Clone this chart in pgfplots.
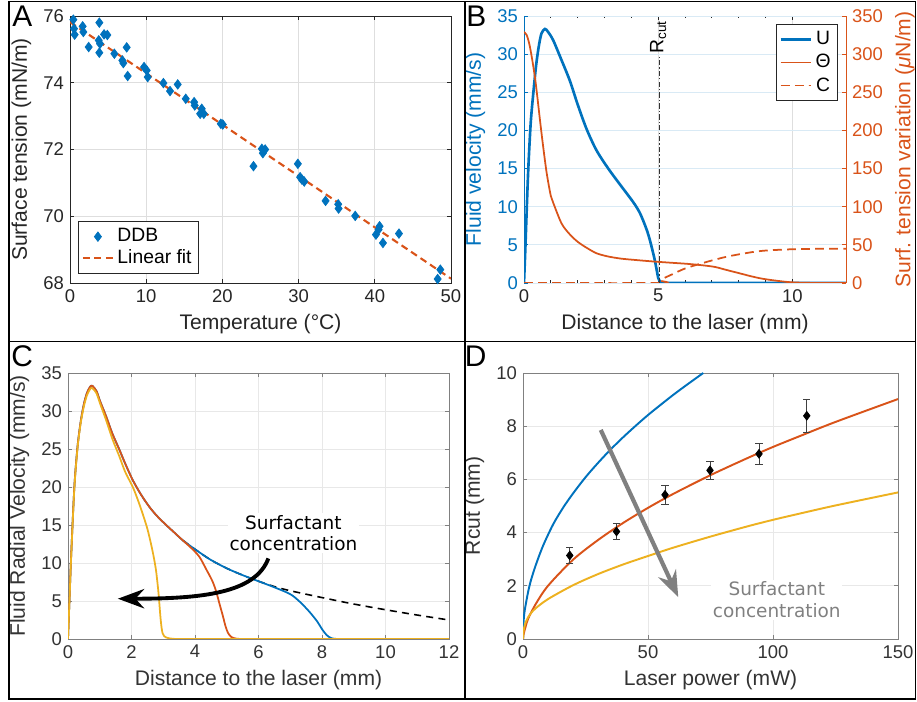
\documentclass[border=0pt]{standalone}
\usepackage{fontspec}
\setmainfont{Liberation Sans}
\newfontfamily\dejavu{DejaVu Sans}
\usepackage{pgfplots}
\pgfplotsset{compat=1.18}
\usetikzlibrary{arrows.meta}

\definecolor{mblue}{rgb}{0,0.447,0.741}
\definecolor{morange}{rgb}{0.85,0.325,0.098}
\definecolor{myellow}{rgb}{0.929,0.694,0.125}
\definecolor{axc}{rgb}{0.15,0.15,0.15}
\definecolor{gridc}{rgb}{0.87,0.87,0.87}
\definecolor{gridl}{rgb}{0.91,0.91,0.91}
\definecolor{gridb}{rgb}{0.85,0.917,0.961}
\definecolor{axg}{rgb}{0.5,0.5,0.5}

\pgfplotsset{
  mat/.style={
    scale only axis,
    axis line style={axc, line width=0.5pt},
    tick style={axc, line width=0.5pt},
    tick align=inside,
    major tick length=0.08cm,
    minor tick length=0.05cm,
    grid=major,
    major grid style={gridc, line width=0.5pt},
    ticklabel style={font=\fontsize{10.5}{12}\selectfont, text=axc},
    label style={font=\fontsize{12}{14}\selectfont, text=axc},
    /pgf/number format/assume math mode=true,
  },
  matgray/.style={
    axis line style={axg, line width=0.5pt},
    tick style={axg, line width=0.5pt},
    major grid style={gridl, line width=0.5pt},
    ticklabel style={text=black!80},
    label style={text=black!80},
  },
}
\tikzset{
  panel/.style={anchor=base west, inner sep=0pt, font=\fontsize{17}{20}\selectfont},
  surf/.style={fill=white, align=center, inner sep=1pt, font=\dejavu\fontsize{10.5}{12.3}\selectfont},
}

\begin{document}
\begin{tikzpicture}
\useasboundingbox (0,0) rectangle (18.34,14.04);

% ---------- A ----------
\begin{axis}[mat, at={(1.40cm,8.38cm)}, anchor=south west,
  width=7.62cm, height=5.34cm,
  xmin=0, xmax=50, ymin=68, ymax=76,
  xtick={0,10,...,50}, ytick={68,70,...,76},
  xlabel={Temperature (°C)}, ylabel={Surface tension (mN/m)},
  legend style={at={(0.021,0.034)}, anchor=south west, draw=axc,
    font=\fontsize{11}{13}\selectfont, inner sep=2pt, row sep=-1pt,
    cells={anchor=west}},
]
\addplot[only marks, mark=diamond*, mark size=2.7pt, color=mblue] coordinates {
 (0.44,75.89)(0.53,75.62)(0.61,75.44)(1.66,75.69)(1.75,75.52)(2.45,75.07)
 (3.85,75.80)(3.77,75.27)(3.94,75.17)(3.85,74.90)(4.47,75.45)(4.9,75.43)
 (5.82,74.87)(6.87,74.67)(7.0,74.59)(7.44,75.06)(7.57,74.20)(9.72,74.47)
 (10.07,74.37)(10.2,74.17)(12.26,73.99)(13.13,73.75)(14.14,73.95)(15.19,73.52)
 (16.29,73.42)(16.37,73.32)(17.08,73.07)(17.29,73.22)(17.56,73.07)(19.79,72.77)
 (20.05,72.75)(24.08,71.50)(25.18,72.02)(25.31,71.89)(25.61,72.0)(29.9,71.57)
 (30.2,71.17)(30.43,71.1)(30.74,71.04)(33.54,70.46)(35.2,70.36)(35.25,70.23)
 (37.43,70.01)(40.15,69.45)(40.5,69.6)(40.63,69.7)(41.07,69.2)(43.17,69.48)
 (48.25,68.12)(48.6,68.4)};
\addlegendentry{DDB}
\addplot[morange, line width=1.2pt, dash pattern=on 4pt off 2.5pt] coordinates {(0,75.82)(50,68.13)};
\addlegendentry{Linear fit}
\end{axis}

% ---------- B ----------
\begin{axis}[mat, at={(10.48cm,8.38cm)}, anchor=south west,
  width=6.44cm, height=5.34cm,
  xmin=0, xmax=12, ymin=0, ymax=35,
  xtick={0,5,10}, minor x tick num=4,
  axis x line=box, axis y line=none,
  xmajorgrids=true, ymajorgrids=false,
  xlabel={Distance to the laser (mm)},
  xlabel style={font=\fontsize{12}{14}\selectfont, text=axc},
]
\end{axis}
\begin{axis}[mat, at={(10.48cm,8.38cm)}, anchor=south west,
  width=6.44cm, height=5.34cm,
  xmin=0, xmax=12, ymin=0, ymax=35,
  ytick={0,5,...,35},
  axis x line=none, axis y line*=left,
  axis line style={mblue}, tick style={mblue},
  xmajorgrids=false, ymajorgrids=true, major grid style={gridb, line width=0.5pt},
  ticklabel style={text=mblue}, label style={text=mblue},
  ylabel={Fluid velocity (mm/s)},
]
\addplot[mblue, line width=1.5pt, smooth, tension=0.5] coordinates {
 (0,0)(0.05,4.5)(0.1,9.5)(0.16,15)(0.25,21)(0.35,25)(0.45,28.5)(0.55,31)
 (0.65,32.7)(0.78,33.3)(0.9,32.9)(1.09,31.8)(1.4,29.2)(1.71,26.5)(2.0,23.4)
 (2.33,20.2)(2.7,17.4)(3.14,15.0)(3.58,12.9)(4.07,10.6)(4.3,9.3)(4.45,8.1)
 (4.6,6.7)(4.70,5.5)(4.8,4.1)(4.88,2.9)(4.95,1.6)(5.0,0.7)(5.07,0.2)(5.2,0.02)(6,0)(12,0)};
\end{axis}
\begin{axis}[mat, at={(10.48cm,8.38cm)}, anchor=south west,
  width=6.44cm, height=5.34cm,
  xmin=0, xmax=12, ymin=0, ymax=350,
  ytick={0,50,...,350},
  axis x line=none, axis y line*=right,
  axis line style={morange}, tick style={morange},
  grid=none,
  ticklabel style={text=morange}, label style={text=morange},
  ylabel={Surf. tension variation (\textit{μ}N/m)},
  legend style={at={(0.975,0.97)}, anchor=north east, draw=axc,
    font=\fontsize{11}{13}\selectfont, inner sep=2pt, row sep=0pt},
]
\addlegendimage{mblue, line width=1.5pt}
\addlegendentry{U}
\addplot[morange, line width=1pt, smooth, tension=0.5] coordinates {
 (0,329)(0.1,325)(0.2,313)(0.3,294)(0.41,269)(0.5,243)(0.6,212)(0.72,177)
 (0.85,143)(1.0,114)(1.09,105)(1.4,78)(1.7,64)(2.0,54)(2.34,46)(2.7,39)(3.1,35)
 (3.6,32)(4.2,30)(4.88,28)(5.5,26.5)(6.12,25)(6.7,23)(7.12,21)(7.5,17.5)(8.0,13)
 (8.5,8.5)(8.9,5.5)(9.4,3)(9.86,1.2)(10.3,0.4)(11,0)(12,0)};
\addlegendentry{Θ}
\addplot[morange, line width=1pt, dash pattern=on 5pt off 3pt, smooth, tension=0.5] coordinates {
 (0,0)(5,0)(5.1,3)(5.2,6)(5.5,11)(6,19)(6.5,24.5)(7,29.5)(7.5,34)(8,37.5)
 (8.6,41)(9,42.5)(9.5,43.5)(10,44.2)(11,44.8)(12,45)};
\addlegendentry{C}
\draw[black!80, line width=0.8pt, dash pattern=on 3pt off 1.2pt on 0.8pt off 1.2pt]
  (axis cs:5.05,0) -- (axis cs:5.05,296);
\node[rotate=90, anchor=west, inner sep=1pt, font=\fontsize{11}{13}\selectfont]
  at (axis cs:5.0,298) {R\textsubscript{cut}};
\end{axis}

% ---------- C ----------
\begin{axis}[mat, matgray, at={(1.36cm,1.26cm)}, anchor=south west,
  width=7.62cm, height=5.32cm,
  xmin=0, xmax=12, ymin=0, ymax=35,
  xtick={0,2,...,12}, ytick={0,5,...,35},
  xlabel={Distance to the laser (mm)}, ylabel={Fluid Radial Velocity (mm/s)},
]
\addplot[black, line width=0.9pt, dash pattern=on 4pt off 3pt, smooth] coordinates {
 (3.61,13.0)(3.9,12.1)(4.14,11.4)(4.5,10.4)(5,9.3)(5.5,8.4)(6,7.6)(6.5,6.9)
 (7,6.35)(8,5.45)(9,4.6)(10,3.85)(11,3.15)(12,2.5)};
\addplot[mblue, line width=1pt, smooth, tension=0.5] coordinates {
 (0,0)(0.05,5.5)(0.1,11)(0.2,20)(0.3,25.3)(0.4,28.6)(0.5,30.9)(0.6,32.4)(0.7,33.2)
 (0.77,33.3)(0.9,32.6)(1.0,31.4)(1.2,29.3)(1.4,27.0)(1.62,24.9)(1.8,23.1)(2.04,20.9)
 (2.3,19.0)(2.56,17.4)(2.8,16.2)(3.09,15.0)(3.35,14.0)(3.61,13.0)(3.9,12.1)(4.14,11.4)
 (4.5,10.4)(5,9.3)(5.5,8.4)(6,7.6)(6.5,6.8)(7,5.9)(7.3,4.9)(7.6,3.6)(7.85,2.3)
 (8.0,1.3)(8.15,0.5)(8.3,0.1)(8.5,0)(9,0)(12,0)};
\addplot[morange, line width=1pt, smooth, tension=0.5] coordinates {
 (0,0)(0.05,5.5)(0.1,11)(0.2,20)(0.3,25.3)(0.4,28.6)(0.5,30.9)(0.6,32.4)(0.7,33.2)
 (0.77,33.3)(0.9,32.6)(1.0,31.4)(1.2,29.3)(1.4,27.0)(1.62,24.9)(1.8,23.1)(2.04,20.9)
 (2.3,19.0)(2.56,17.4)(2.8,16.2)(3.09,15.0)(3.35,14.0)(3.61,13.0)(3.9,11.9)(4.14,10.8)
 (4.35,9.2)(4.55,7.6)(4.67,6.2)(4.78,4.5)(4.88,3.0)(4.96,1.7)(5.04,0.8)(5.15,0.25)
 (5.3,0.05)(5.5,0)(6,0)(12,0)};
\addplot[myellow, line width=1pt, smooth, tension=0.5] coordinates {
 (0,0)(0.05,5.4)(0.1,10.8)(0.2,19.8)(0.3,25.1)(0.4,28.4)(0.5,30.6)(0.6,32.1)(0.7,32.9)
 (0.77,33.0)(0.9,32.3)(1.0,31.1)(1.2,28.8)(1.4,26.3)(1.62,24.0)(1.8,22.0)(2.04,20.0)
 (2.2,18.3)(2.35,16.5)(2.5,14.5)(2.61,12.6)(2.7,10.8)(2.77,9.1)(2.82,7.3)(2.86,5.6)
 (2.92,2.5)(2.98,0.75)(3.09,0.2)(3.3,0.03)(3.5,0)(4,0)(12,0)};
\node[surf] at (axis cs:7.1,13.95) {Surfactant\\concentration};
\draw[black, line width=2.2pt, -{Stealth[length=15pt, width=11pt, inset=5pt]}]
  (axis cs:6.31,10.6) .. controls (axis cs:5.9,6.0) and (axis cs:4.2,5.3) .. (axis cs:1.57,5.3);
\end{axis}

% ---------- D ----------
\begin{axis}[mat, matgray, at={(10.46cm,1.26cm)}, anchor=south west,
  width=7.50cm, height=5.32cm,
  xmin=0, xmax=150, ymin=0, ymax=10,
  xtick={0,50,100,150}, ytick={0,2,...,10},
  xlabel={Laser power (mW)}, ylabel={Rcut (mm)},
]
\addplot[mblue, line width=1.1pt, smooth, tension=0.5] coordinates {
 (0,0)(0.2,0.6)(0.5,0.95)(1,1.25)(2,1.75)(3,2.15)(5,2.75)(8,3.5)(12,4.3)(16,4.93)
 (20,5.47)(25,6.08)(30,6.62)(35,7.12)(40,7.58)(45,8.01)(50,8.42)(55,8.80)(60,9.17)
 (65,9.52)(72.1,10)};
\addplot[morange, line width=1.1pt, smooth, tension=0.5] coordinates {
 (0,0)(0.2,0.16)(0.5,0.28)(1,0.45)(2,0.75)(5,1.3)(10,2.0)(20,2.98)(30,3.72)(40,4.36)
 (50,4.93)(60,5.45)(75,6.16)(90,6.81)(100,7.22)(110,7.60)(125,8.16)(150,9.02)};
\addplot[myellow, line width=1.1pt, smooth, tension=0.5] coordinates {
 (0,0)(0.2,0.27)(0.5,0.44)(1,0.61)(2,0.81)(3,0.95)(5,1.15)(10,1.50)(20,2.02)(30,2.44)
 (40,2.80)(50,3.12)(60,3.43)(75,3.85)(90,4.24)(100,4.48)(110,4.70)(125,5.02)(150,5.51)};
\addplot[only marks, mark=diamond*, mark size=2.5pt, black,
  error bars/.cd, y dir=both, y explicit,
  error bar style={black!75, line width=0.5pt},
  error mark options={rotate=90, mark size=2pt, black!75, line width=0.5pt}]
  coordinates {
 (18.7,3.14) +- (0,0.30)
 (37.4,4.04) +- (0,0.30)
 (56.8,5.42) +- (0,0.35)
 (74.8,6.34) +- (0,0.35)
 (94.4,6.96) +- (0,0.40)
 (113.5,8.39) +- (0,0.62)};
\node[surf, text=axg] at (axis cs:101.5,1.47) {Surfactant\\concentration};
\draw[axg, line width=2.4pt, -{Stealth[length=15pt, width=11pt, inset=5pt]}]
  (axis cs:31.1,7.86) -- (axis cs:62.1,1.57);
\end{axis}

% ---------- frame and panel letters ----------
\draw[line width=0.9pt] (0.18,14.01) rectangle (18.31,0.06);
\draw[line width=0.9pt] (9.30,14.01) -- (9.30,0.06);
\draw[line width=0.9pt] (0.18,7.21) -- (18.31,7.21);
\node[panel] at (0.24,13.5) {A};
\node[panel] at (9.32,13.5) {B};
\node[panel] at (0.22,6.70) {C};
\node[panel] at (9.29,6.70) {D};
\end{tikzpicture}
\end{document}
